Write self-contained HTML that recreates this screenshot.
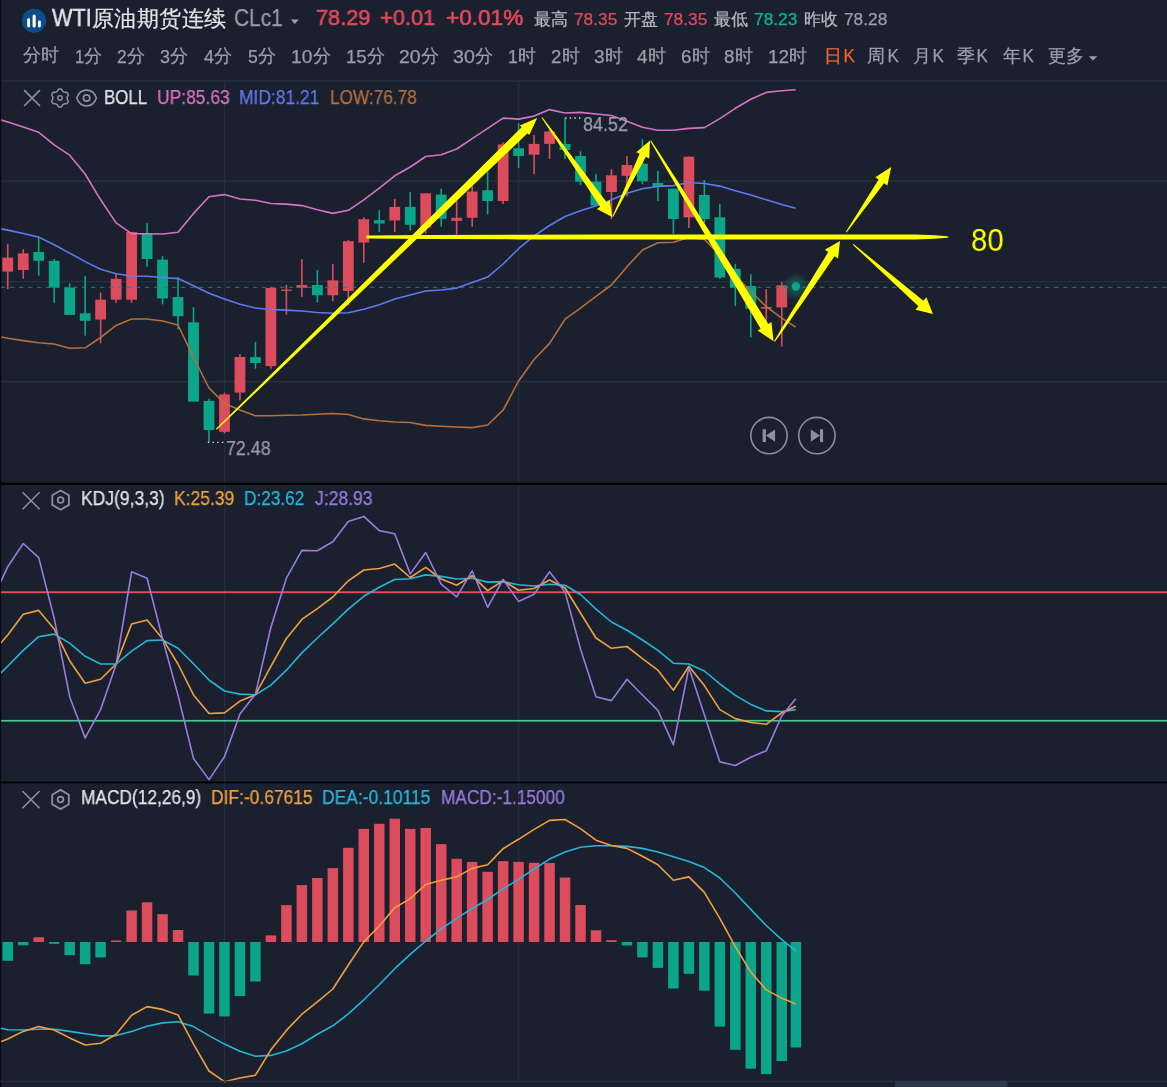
<!DOCTYPE html>
<html lang="zh"><head><meta charset="utf-8"><title>WTI原油期货连续 CLc1</title>
<style>
html,body{margin:0;padding:0;background:#1a202e;}
body{width:1167px;height:1087px;overflow:hidden;position:relative;font-family:"Liberation Sans",sans-serif;}
svg{position:absolute;left:0;top:0;}
.t{position:absolute;white-space:nowrap;line-height:1;transform-origin:0 50%;display:block;will-change:transform;}
.t{-webkit-text-stroke:0.25px currentColor;}
.s{-webkit-text-stroke:0.45px currentColor;}
.m{-webkit-text-stroke:0.65px currentColor !important;}
.tf b{font-weight:400;display:inline-block;transform-origin:0 50%;}
.tf i{font-style:normal;position:absolute;right:0;top:0.03em;font-size:17.6px;}
</style></head><body>
<svg width="1167" height="1087" viewBox="0 0 1167 1087">
<rect x="0" y="80.2" width="1167" height="1.8" fill="#242d3c"/>
<rect x="0" y="180.5" width="1167" height="1.4" fill="#27313f"/>
<rect x="0" y="280.95" width="1167" height="1.4" fill="#27313f"/>
<rect x="0" y="381.0" width="1167" height="1.4" fill="#27313f"/>
<rect x="223.9" y="82" width="1.3" height="999" fill="#252e3f"/>
<rect x="517.9" y="82" width="1.3" height="999" fill="#252e3f"/>
<rect x="6.95" y="244" width="1.6" height="45" fill="#dc4c5c"/>
<rect x="2.35" y="257.7" width="10.8" height="13.9" fill="#dc4c5c"/>
<rect x="22.43" y="249.2" width="1.6" height="29.6" fill="#dc4c5c"/>
<rect x="17.83" y="253.3" width="10.8" height="16.7" fill="#dc4c5c"/>
<rect x="37.91" y="237.9" width="1.6" height="37.8" fill="#0ba68a"/>
<rect x="33.31" y="252" width="10.8" height="8.8" fill="#0ba68a"/>
<rect x="53.39" y="259" width="1.6" height="43.8" fill="#0ba68a"/>
<rect x="48.79" y="260.8" width="10.8" height="26.8" fill="#0ba68a"/>
<rect x="68.87" y="283.4" width="1.6" height="31.5" fill="#0ba68a"/>
<rect x="64.27" y="287.6" width="10.8" height="27.3" fill="#0ba68a"/>
<rect x="84.35" y="276.2" width="1.6" height="59.5" fill="#0ba68a"/>
<rect x="79.75" y="313.3" width="10.8" height="7.5" fill="#0ba68a"/>
<rect x="99.83" y="292.5" width="1.6" height="50.7" fill="#dc4c5c"/>
<rect x="95.23" y="299.7" width="10.8" height="19.8" fill="#dc4c5c"/>
<rect x="115.31" y="273" width="1.6" height="29.8" fill="#dc4c5c"/>
<rect x="110.71" y="278.8" width="10.8" height="20.9" fill="#dc4c5c"/>
<rect x="130.79" y="232" width="1.6" height="70.8" fill="#dc4c5c"/>
<rect x="126.19" y="232" width="10.8" height="67.7" fill="#dc4c5c"/>
<rect x="146.27" y="223.2" width="1.6" height="43.5" fill="#0ba68a"/>
<rect x="141.67" y="233.5" width="10.8" height="25.5" fill="#0ba68a"/>
<rect x="161.75" y="256.2" width="1.6" height="48.2" fill="#0ba68a"/>
<rect x="157.15" y="259.6" width="10.8" height="38.8" fill="#0ba68a"/>
<rect x="177.23" y="277.3" width="1.6" height="52" fill="#0ba68a"/>
<rect x="172.63" y="297.1" width="10.8" height="19.1" fill="#0ba68a"/>
<rect x="192.71" y="307.3" width="1.6" height="94.3" fill="#0ba68a"/>
<rect x="188.11" y="322.3" width="10.8" height="79.3" fill="#0ba68a"/>
<rect x="208.19" y="398.8" width="1.6" height="43.2" fill="#0ba68a"/>
<rect x="203.59" y="400.9" width="10.8" height="29.1" fill="#0ba68a"/>
<rect x="223.67" y="392.6" width="1.6" height="40.7" fill="#dc4c5c"/>
<rect x="219.07" y="394.4" width="10.8" height="37.4" fill="#dc4c5c"/>
<rect x="239.15" y="354" width="1.6" height="46.4" fill="#dc4c5c"/>
<rect x="234.55" y="357" width="10.8" height="35.6" fill="#dc4c5c"/>
<rect x="254.63" y="341.9" width="1.6" height="26.8" fill="#0ba68a"/>
<rect x="250.03" y="357.1" width="10.8" height="5.9" fill="#0ba68a"/>
<rect x="270.11" y="286.8" width="1.6" height="81.9" fill="#dc4c5c"/>
<rect x="265.51" y="288" width="10.8" height="78.1" fill="#dc4c5c"/>
<rect x="285.59" y="285" width="1.6" height="29.6" fill="#dc4c5c"/>
<rect x="280.99" y="289.6" width="10.8" height="1.3" fill="#dc4c5c"/>
<rect x="301.07" y="259.2" width="1.6" height="37.6" fill="#dc4c5c"/>
<rect x="296.47" y="285" width="10.8" height="2.8" fill="#dc4c5c"/>
<rect x="316.55" y="270" width="1.6" height="32.5" fill="#0ba68a"/>
<rect x="311.95" y="285" width="10.8" height="10.3" fill="#0ba68a"/>
<rect x="332.03" y="263.9" width="1.6" height="37.3" fill="#dc4c5c"/>
<rect x="327.43" y="280.3" width="10.8" height="15" fill="#dc4c5c"/>
<rect x="347.51" y="239.9" width="1.6" height="65.7" fill="#dc4c5c"/>
<rect x="342.91" y="241.2" width="10.8" height="49.7" fill="#dc4c5c"/>
<rect x="362.99" y="217.2" width="1.6" height="45.5" fill="#dc4c5c"/>
<rect x="358.39" y="219.2" width="10.8" height="23.4" fill="#dc4c5c"/>
<rect x="378.47" y="210.2" width="1.6" height="21.9" fill="#0ba68a"/>
<rect x="373.87" y="220.2" width="10.8" height="3.3" fill="#0ba68a"/>
<rect x="393.95" y="199" width="1.6" height="33.1" fill="#dc4c5c"/>
<rect x="389.35" y="206.9" width="10.8" height="13.6" fill="#dc4c5c"/>
<rect x="409.43" y="192" width="1.6" height="38.8" fill="#0ba68a"/>
<rect x="404.83" y="206.9" width="10.8" height="17.9" fill="#0ba68a"/>
<rect x="424.91" y="193.3" width="1.6" height="40.2" fill="#dc4c5c"/>
<rect x="420.31" y="193.3" width="10.8" height="34.2" fill="#dc4c5c"/>
<rect x="440.39" y="188.7" width="1.6" height="37.8" fill="#0ba68a"/>
<rect x="435.79" y="194.6" width="10.8" height="24.2" fill="#0ba68a"/>
<rect x="455.87" y="201" width="1.6" height="33.5" fill="#dc4c5c"/>
<rect x="451.27" y="217.8" width="10.8" height="3.1" fill="#dc4c5c"/>
<rect x="471.35" y="185.6" width="1.6" height="41.2" fill="#dc4c5c"/>
<rect x="466.75" y="191.5" width="10.8" height="26.3" fill="#dc4c5c"/>
<rect x="486.83" y="171.4" width="1.6" height="43" fill="#0ba68a"/>
<rect x="482.23" y="190.2" width="10.8" height="10.8" fill="#0ba68a"/>
<rect x="502.31" y="142.3" width="1.6" height="61.8" fill="#dc4c5c"/>
<rect x="497.71" y="144.4" width="10.8" height="56.6" fill="#dc4c5c"/>
<rect x="517.79" y="123.3" width="1.6" height="44.7" fill="#0ba68a"/>
<rect x="513.19" y="148.2" width="10.8" height="7.8" fill="#0ba68a"/>
<rect x="533.27" y="134.9" width="1.6" height="39.1" fill="#dc4c5c"/>
<rect x="528.67" y="143.9" width="10.8" height="10.8" fill="#dc4c5c"/>
<rect x="548.75" y="130.2" width="1.6" height="28.8" fill="#dc4c5c"/>
<rect x="544.15" y="131.5" width="10.8" height="12.4" fill="#dc4c5c"/>
<rect x="564.23" y="118.1" width="1.6" height="40.9" fill="#0ba68a"/>
<rect x="559.63" y="143.9" width="10.8" height="6.1" fill="#0ba68a"/>
<rect x="579.71" y="151.3" width="1.6" height="33.5" fill="#0ba68a"/>
<rect x="575.11" y="156" width="10.8" height="25.7" fill="#0ba68a"/>
<rect x="595.19" y="174" width="1.6" height="32" fill="#0ba68a"/>
<rect x="590.59" y="181.7" width="10.8" height="23.7" fill="#0ba68a"/>
<rect x="610.67" y="169.2" width="1.6" height="49.8" fill="#dc4c5c"/>
<rect x="606.07" y="175.3" width="10.8" height="16.7" fill="#dc4c5c"/>
<rect x="626.15" y="156" width="1.6" height="40.4" fill="#dc4c5c"/>
<rect x="621.55" y="165" width="10.8" height="10.8" fill="#dc4c5c"/>
<rect x="641.63" y="139.2" width="1.6" height="45.1" fill="#0ba68a"/>
<rect x="637.03" y="163.7" width="10.8" height="17.5" fill="#0ba68a"/>
<rect x="657.11" y="170.9" width="1.6" height="30.1" fill="#0ba68a"/>
<rect x="652.51" y="183" width="10.8" height="3.4" fill="#0ba68a"/>
<rect x="672.59" y="188.7" width="1.6" height="45" fill="#0ba68a"/>
<rect x="667.99" y="188.7" width="10.8" height="30.3" fill="#0ba68a"/>
<rect x="688.07" y="156.7" width="1.6" height="71.3" fill="#dc4c5c"/>
<rect x="683.47" y="156.7" width="10.8" height="60.6" fill="#dc4c5c"/>
<rect x="703.55" y="180" width="1.6" height="43" fill="#0ba68a"/>
<rect x="698.95" y="195" width="10.8" height="24" fill="#0ba68a"/>
<rect x="719.03" y="204" width="1.6" height="74.8" fill="#0ba68a"/>
<rect x="714.43" y="217.3" width="10.8" height="60.2" fill="#0ba68a"/>
<rect x="734.51" y="264" width="1.6" height="42.1" fill="#0ba68a"/>
<rect x="729.91" y="268.8" width="10.8" height="19" fill="#0ba68a"/>
<rect x="749.99" y="274.4" width="1.6" height="63.1" fill="#0ba68a"/>
<rect x="745.39" y="286" width="10.8" height="22.7" fill="#0ba68a"/>
<rect x="765.47" y="289" width="1.6" height="33" fill="#dc4c5c"/>
<rect x="760.87" y="307" width="10.8" height="1.7" fill="#dc4c5c"/>
<rect x="780.95" y="282.2" width="1.6" height="64.3" fill="#dc4c5c"/>
<rect x="776.35" y="285.3" width="10.8" height="22.1" fill="#dc4c5c"/>
<line x1="1.1" y1="287.25" x2="1167" y2="287.25" stroke="#1c8876" stroke-width="1.1" stroke-dasharray="4.3 4.7"/>
<polyline fill="none" stroke="#d673c4" stroke-width="1.6" stroke-linejoin="round" points="1.3,119.9 7.75,122 23.23,126.9 38.71,132.3 54.19,144.9 69.67,155.2 85.15,174 100.63,199.8 116.11,222.9 131.59,233.7 147.07,233.7 162.55,234 178.03,232.3 193.51,213.4 208.99,196.7 224.47,194.6 239.95,199 255.43,200.3 270.91,203.5 286.39,204.1 301.87,205.6 317.35,209.8 332.83,213.4 348.31,210.3 363.79,199.9 379.27,188.2 394.75,175.8 410.23,167 425.71,156.5 441.19,154.7 456.67,149 472.15,138.7 487.63,128.4 503.11,118.1 518.59,119.1 534.07,116.1 549.55,109.6 565.03,113 580.51,112.4 595.99,114 611.47,115.5 626.95,121.2 642.43,127.2 657.91,130.2 673.39,130.2 688.87,128.4 704.35,127.6 719.83,118.6 735.31,108.3 750.79,99.3 766.27,92.4 781.75,90.8 795.7,89.8"/>
<polyline fill="none" stroke="#5f7aee" stroke-width="1.6" stroke-linejoin="round" points="1.3,228.9 7.75,230.1 23.23,233.5 38.71,237.1 54.19,244.8 69.67,253.1 85.15,261.6 100.63,269.3 116.11,273.7 131.59,276 147.07,276.2 162.55,277.5 178.03,278.6 193.51,285.8 208.99,293.2 224.47,299 239.95,304.2 255.43,308 270.91,309.5 286.39,310.1 301.87,311 317.35,312.5 332.83,313.3 348.31,312.8 363.79,309.3 379.27,304.8 394.75,299 410.23,295 425.71,291 441.19,290 456.67,288.1 472.15,282.5 487.63,277.1 503.11,264 518.59,248.7 534.07,235.8 549.55,225.5 565.03,216.5 580.51,210.8 595.99,205.7 611.47,199.8 626.95,193.3 642.43,188.7 657.91,186.4 673.39,185.6 688.87,182.5 704.35,183.5 719.83,186.1 735.31,190.7 750.79,195.1 766.27,199.8 781.75,204.4 795.7,208.3"/>
<polyline fill="none" stroke="#b56f3d" stroke-width="1.6" stroke-linejoin="round" points="1.3,337 7.75,338.3 23.23,340.6 38.71,342.7 54.19,344 69.67,348.3 85.15,347.8 100.63,337.5 116.11,325.4 131.59,319 147.07,319 162.55,321 178.03,325 193.51,357.5 208.99,388 224.47,403.4 239.95,409.9 255.43,415.8 270.91,415.8 286.39,415.3 301.87,415 317.35,414.3 332.83,413.5 348.31,414.5 363.79,418.9 379.27,420.7 394.75,422 410.23,422.5 425.71,425.4 441.19,426.2 456.67,427 472.15,427.6 487.63,425 503.11,410.2 518.59,381 534.07,359.5 549.55,343.4 565.03,319.2 580.51,308.2 595.99,296.4 611.47,285 626.95,266.7 642.43,250 657.91,242.8 673.39,242.2 688.87,237.6 704.35,239.2 719.83,255.1 735.31,275 750.79,291.7 766.27,306.6 781.75,318.2 795.7,327.2"/>
<defs><radialGradient id="glow"><stop offset="0" stop-color="#0ba68a" stop-opacity="0.42"/><stop offset="0.55" stop-color="#0ba68a" stop-opacity="0.24"/><stop offset="1" stop-color="#0ba68a" stop-opacity="0"/></radialGradient></defs>
<circle cx="795.9" cy="286.5" r="14.5" fill="url(#glow)"/>
<circle cx="795.9" cy="286.5" r="4.2" fill="#0ba68a"/>
<line x1="207.8" y1="442.4" x2="224" y2="442.4" stroke="#d8dbe2" stroke-width="1.3" stroke-dasharray="1.4 3.3"/>
<line x1="565.2" y1="118" x2="581" y2="118" stroke="#d8dbe2" stroke-width="1.3" stroke-dasharray="1.4 3.2"/>
<polygon fill="#ffff00" points="366.3,235.7 367.5,235.5 430,235.1 520,234.7 600,234.4 915,234.4 935,235.2 947,236.2 949.4,237 947,237.8 935,238.8 915,239.6 600,239.5 520,239.4 430,239 367.5,238.4 366.3,238.2"/>
<polygon fill="#ffff00" points="216.82,429.63 527.53,133.31 529.27,135.1 537.2,118 519.87,125.41 521.61,127.2 215.98,428.77"/>
<polygon fill="#ffff00" points="541.59,117.79 600.11,206.8 596.92,209.05 612.2,217 609.83,199.94 606.65,202.19 542.41,117.21"/>
<polygon fill="#ffff00" points="613.25,216.82 645.9,156.86 649.22,158.49 650,140.5 636.29,152.16 639.61,153.79 612.35,216.38"/>
<polygon fill="#ffff00" points="650.27,140.96 657.99,154.47 665.81,167.91 673.66,181.34 681.52,194.75 689.4,208.16 697.29,221.56 705.19,234.95 713.1,248.34 721.01,261.73 728.92,275.12 736.84,288.5 744.76,301.88 752.69,315.26 760.62,328.63 757.55,330.51 773.6,341.2 771.36,322.05 768.29,323.93 759.97,310.79 751.64,297.66 743.32,284.53 734.98,271.4 726.65,258.27 718.31,245.15 709.96,232.03 701.61,218.91 693.25,205.8 684.88,192.69 676.5,179.6 668.1,166.51 659.66,153.44 651.13,140.44"/>
<polygon fill="#ffff00" points="774.92,341.77 779.32,335.75 783.63,329.67 787.92,323.58 792.2,317.48 796.46,311.37 800.72,305.25 804.97,299.13 809.22,293.01 813.46,286.89 817.69,280.76 821.93,274.63 826.16,268.5 830.39,262.36 834.61,256.23 838.09,258.49 840,241 824.77,249.81 828.24,252.08 824.34,258.42 820.43,264.77 816.53,271.11 812.63,277.46 808.74,283.81 804.84,290.16 800.96,296.52 797.07,302.88 793.2,309.24 789.33,315.61 785.47,321.98 781.63,328.37 777.81,334.77 774.08,341.23"/>
<polygon fill="#ffff00" points="846.61,232.58 884.04,183.2 887.38,185.5 891.2,167 875.27,177.16 878.61,179.45 845.79,232.02"/>
<polygon fill="#ffff00" points="852.77,244.78 918.45,306.29 915.46,309.72 932.9,313.9 926.36,297.2 923.37,300.63 853.43,244.02"/>
<circle cx="769" cy="435.6" r="18.2" fill="none" stroke="#8b90a0" stroke-width="1.6"/>
<circle cx="816.9" cy="435.6" r="18.2" fill="none" stroke="#8b90a0" stroke-width="1.6"/>
<path fill="#8b90a0" d="M762.6,429.2h3.3v12.9h-3.3z M765.9,435.6 L775.1,429.5 V441.8z"/>
<path fill="#8b90a0" d="M820,429.2h3.1v12.9h-3.1z M820,435.6 L810.8,429.5 V441.8z"/>
<rect x="0" y="591.3" width="1167" height="1.9" fill="#e8495b"/>
<rect x="0" y="719.9" width="1167" height="1.7" fill="#48c68c"/>
<polyline fill="none" stroke="#25b7d9" stroke-width="1.6" stroke-linejoin="round" points="0,674 7.75,666.3 23.23,650.4 38.71,636.7 54.19,634.1 69.67,643.1 85.15,656.3 100.63,664 116.11,664 131.59,651.1 147.07,640.6 162.55,640 178.03,648.3 193.51,663.7 208.99,680 224.47,691 239.95,694.1 255.43,694.7 270.91,685.1 286.39,670.2 301.87,652.9 317.35,638 332.83,623.8 348.31,609.1 363.79,596.3 379.27,587.3 394.75,579.5 410.23,578.8 425.71,574.9 441.19,576.4 456.67,579 472.15,578.2 487.63,582.1 503.11,581.6 518.59,584.7 534.07,586 549.55,584.2 565.03,585.2 580.51,594.5 595.99,609.1 611.47,622 626.95,630.3 642.43,640 657.91,650.4 673.39,663.2 688.87,664 704.35,671 719.83,683.8 735.31,695.4 750.79,704.4 766.27,710.9 781.75,711.6 795.7,709.6"/>
<polyline fill="none" stroke="#f2a03d" stroke-width="1.6" stroke-linejoin="round" points="0,643.9 7.75,634.9 23.23,614.3 38.71,610.4 54.19,629 69.67,660.7 85.15,683.3 100.63,679.2 116.11,664 131.59,624.1 147.07,620 162.55,638.8 178.03,664 193.51,694.9 208.99,713.5 224.47,712.9 239.95,701.1 255.43,694.7 270.91,666.3 286.39,638.5 301.87,619.4 317.35,608.6 332.83,597 348.31,580.8 363.79,570 379.27,568.5 394.75,564.1 410.23,577.5 425.71,567.4 441.19,579 456.67,585.2 472.15,575.7 487.63,590.6 503.11,580.8 518.59,590.3 534.07,588.5 549.55,580 565.03,588 580.51,613 595.99,638 611.47,648.3 626.95,646.5 642.43,658.6 657.91,670.2 673.39,690.3 688.87,666.3 704.35,685.6 719.83,709.6 735.31,718.6 750.79,722.5 766.27,724.3 781.75,712.9 795.7,706.2"/>
<polyline fill="none" stroke="#9a7be0" stroke-width="1.6" stroke-linejoin="round" points="0,583.4 7.75,566.7 23.23,543.5 38.71,557.6 54.19,618.2 69.67,696.7 85.15,737.9 100.63,709.6 116.11,664.5 131.59,571.8 147.07,578.2 162.55,638.8 178.03,695.4 193.51,758.5 208.99,779.6 224.47,756.7 239.95,714 255.43,694.1 270.91,627.2 286.39,578.2 301.87,550.4 317.35,550.7 332.83,541.7 348.31,521.6 363.79,516.4 379.27,530.6 394.75,533.7 410.23,573.9 425.71,552.5 441.19,584.2 456.67,596.8 472.15,571 487.63,607.3 503.11,579.5 518.59,601.4 534.07,594.2 549.55,571.8 565.03,591.9 580.51,649 595.99,696.7 611.47,700.6 626.95,679.2 642.43,695 657.91,710.4 673.39,744.9 688.87,667.6 704.35,714.7 719.83,761.9 735.31,765.5 750.79,757.2 766.27,750.8 781.75,716 795.7,698.8"/>
<rect x="2.5" y="942" width="10.5" height="18.8" fill="#0ba68a"/>
<rect x="17.98" y="942" width="10.5" height="3.3" fill="#0ba68a"/>
<rect x="33.46" y="937.3" width="10.5" height="4.7" fill="#dc4c5c"/>
<rect x="48.94" y="942" width="10.5" height="1.8" fill="#0ba68a"/>
<rect x="64.42" y="942" width="10.5" height="13.1" fill="#0ba68a"/>
<rect x="79.9" y="942" width="10.5" height="22.2" fill="#0ba68a"/>
<rect x="95.38" y="942" width="10.5" height="15.4" fill="#0ba68a"/>
<rect x="110.86" y="940.5" width="10.5" height="1.5" fill="#dc4c5c"/>
<rect x="126.34" y="910.5" width="10.5" height="31.5" fill="#dc4c5c"/>
<rect x="141.82" y="902.3" width="10.5" height="39.7" fill="#dc4c5c"/>
<rect x="157.3" y="914.2" width="10.5" height="27.8" fill="#dc4c5c"/>
<rect x="172.78" y="930" width="10.5" height="12" fill="#dc4c5c"/>
<rect x="188.26" y="942" width="10.5" height="33.5" fill="#0ba68a"/>
<rect x="203.74" y="942" width="10.5" height="71.6" fill="#0ba68a"/>
<rect x="219.22" y="942" width="10.5" height="74.4" fill="#0ba68a"/>
<rect x="234.7" y="942" width="10.5" height="54.1" fill="#0ba68a"/>
<rect x="250.18" y="942" width="10.5" height="39.5" fill="#0ba68a"/>
<rect x="265.66" y="935.4" width="10.5" height="6.6" fill="#dc4c5c"/>
<rect x="281.14" y="905.1" width="10.5" height="36.9" fill="#dc4c5c"/>
<rect x="296.62" y="885.1" width="10.5" height="56.9" fill="#dc4c5c"/>
<rect x="312.1" y="878" width="10.5" height="64" fill="#dc4c5c"/>
<rect x="327.58" y="868.1" width="10.5" height="73.9" fill="#dc4c5c"/>
<rect x="343.06" y="847.8" width="10.5" height="94.2" fill="#dc4c5c"/>
<rect x="358.54" y="828.9" width="10.5" height="113.1" fill="#dc4c5c"/>
<rect x="374.02" y="823.8" width="10.5" height="118.2" fill="#dc4c5c"/>
<rect x="389.5" y="818.7" width="10.5" height="123.3" fill="#dc4c5c"/>
<rect x="404.98" y="828.9" width="10.5" height="113.1" fill="#dc4c5c"/>
<rect x="420.46" y="828" width="10.5" height="114" fill="#dc4c5c"/>
<rect x="435.94" y="844.1" width="10.5" height="97.9" fill="#dc4c5c"/>
<rect x="451.42" y="858.8" width="10.5" height="83.2" fill="#dc4c5c"/>
<rect x="466.9" y="861.9" width="10.5" height="80.1" fill="#dc4c5c"/>
<rect x="482.38" y="871.8" width="10.5" height="70.2" fill="#dc4c5c"/>
<rect x="497.86" y="861.1" width="10.5" height="80.9" fill="#dc4c5c"/>
<rect x="513.34" y="861.9" width="10.5" height="80.1" fill="#dc4c5c"/>
<rect x="528.82" y="862.8" width="10.5" height="79.2" fill="#dc4c5c"/>
<rect x="544.3" y="863" width="10.5" height="79" fill="#dc4c5c"/>
<rect x="559.78" y="877.5" width="10.5" height="64.5" fill="#dc4c5c"/>
<rect x="575.26" y="905" width="10.5" height="37" fill="#dc4c5c"/>
<rect x="590.74" y="930.3" width="10.5" height="11.7" fill="#dc4c5c"/>
<rect x="606.22" y="940.2" width="10.5" height="1.8" fill="#dc4c5c"/>
<rect x="621.7" y="942" width="10.5" height="3.5" fill="#0ba68a"/>
<rect x="637.18" y="942" width="10.5" height="15.4" fill="#0ba68a"/>
<rect x="652.66" y="942" width="10.5" height="25.9" fill="#0ba68a"/>
<rect x="668.14" y="942" width="10.5" height="46.5" fill="#0ba68a"/>
<rect x="683.62" y="942" width="10.5" height="31.8" fill="#0ba68a"/>
<rect x="699.1" y="942" width="10.5" height="48.7" fill="#0ba68a"/>
<rect x="714.58" y="942" width="10.5" height="84.6" fill="#0ba68a"/>
<rect x="730.06" y="942" width="10.5" height="107.8" fill="#0ba68a"/>
<rect x="745.54" y="942" width="10.5" height="126.7" fill="#0ba68a"/>
<rect x="761.02" y="942" width="10.5" height="132.1" fill="#0ba68a"/>
<rect x="776.5" y="942" width="10.5" height="119.1" fill="#0ba68a"/>
<rect x="790.65" y="942" width="10.5" height="105.5" fill="#0ba68a"/>
<polyline fill="none" stroke="#25b7d9" stroke-width="1.6" stroke-linejoin="round" points="0,1028 7.75,1029.7 23.23,1030 38.71,1029.2 54.19,1029.2 69.67,1031.4 85.15,1033.7 100.63,1035.9 116.11,1035.6 131.59,1031.4 147.07,1026.3 162.55,1022.9 178.03,1021.8 193.51,1026.6 208.99,1035.6 224.47,1044.1 239.95,1051.2 255.43,1056.3 270.91,1055.4 286.39,1051 301.87,1043.7 317.35,1034.2 332.83,1025.8 348.31,1013.9 363.79,999.8 379.27,984.8 394.75,968.7 410.23,954.3 425.71,941 441.19,928.9 456.67,918.4 472.15,908.5 487.63,899.5 503.11,888.8 518.59,879.4 534.07,869 549.55,859.1 565.03,852 580.51,847.2 595.99,845.8 611.47,845.8 626.95,846.4 642.43,848.4 657.91,852 673.39,856.8 688.87,861.4 704.35,867.6 719.83,878 735.31,893 750.79,909.4 766.27,925.5 781.75,939.6 795.7,950.9"/>
<polyline fill="none" stroke="#f2a03d" stroke-width="1.6" stroke-linejoin="round" points="0,1042.1 7.75,1039 23.23,1031.4 38.71,1026.6 54.19,1030 69.67,1037.9 85.15,1045 100.63,1043.3 116.11,1034.2 131.59,1015.3 147.07,1006.6 162.55,1009.4 178.03,1015 193.51,1044.1 208.99,1071 224.47,1081.7 239.95,1078 255.43,1075.2 270.91,1049.8 286.39,1030.4 301.87,1014.2 317.35,1001.8 332.83,989 348.31,965 363.79,941.9 379.27,926 394.75,907.7 410.23,898.6 425.71,884.5 441.19,880.3 456.67,876.9 472.15,868.4 487.63,864.7 503.11,848.6 518.59,839.3 534.07,829.4 549.55,820.4 565.03,819.5 580.51,828.6 595.99,840.2 611.47,845.5 626.95,848.4 642.43,856.3 657.91,864.7 673.39,880.3 688.87,876.9 704.35,892.4 719.83,918.4 735.31,946.7 750.79,972.1 766.27,989.9 781.75,998.1 795.7,1004"/>
<rect x="0" y="482.75" width="1167" height="2.25" fill="#000"/>
<rect x="0" y="781.6" width="1167" height="1.7" fill="#000"/>
<rect x="0" y="0" width="1.1" height="1087" fill="#05070a"/>
<rect x="0" y="1080.7" width="1167" height="1.2" fill="#263043"/>
<rect x="895" y="1080.9" width="112.5" height="6.2" fill="#2e384b"/>
<path d="M24.1,90.1L40,106M40,90.1L24.1,106" stroke="#8b90a0" stroke-width="1.6" fill="none"/>
<path d="M22.6,492.2L39.6,509.2M39.6,492.2L22.6,509.2" stroke="#8b90a0" stroke-width="1.6" fill="none"/>
<path d="M22.4,791.0L39.6,808.2M39.6,791.0L22.4,808.2" stroke="#8b90a0" stroke-width="1.6" fill="none"/>
<polygon fill="none" stroke="#8b90a0" stroke-width="1.8" stroke-linejoin="round" points="60.6,490.5 68.91,495.3 68.91,504.9 60.6,509.7 52.29,504.9 52.29,495.3"/>
<circle cx="60.6" cy="500.1" r="2.9" fill="none" stroke="#8b90a0" stroke-width="1.7"/>
<polygon fill="none" stroke="#8b90a0" stroke-width="1.8" stroke-linejoin="round" points="60.5,789.9 68.81,794.7 68.81,804.3 60.5,809.1 52.19,804.3 52.19,794.7"/>
<circle cx="60.5" cy="799.5" r="2.9" fill="none" stroke="#8b90a0" stroke-width="1.7"/>
<polygon fill="none" stroke="#8b90a0" stroke-width="1.5" stroke-linejoin="round" points="60,89 60.78,89.05 61.53,89.3 62.1,90.18 62.52,91.08 63.05,91.46 63.6,91.76 64.14,92.09 64.73,92.36 65.73,92.27 66.77,92.32 67.36,92.85 67.79,93.5 68.14,94.2 68.31,94.98 67.82,95.9 67.25,96.72 67.19,97.37 67.2,98 67.19,98.63 67.25,99.28 67.82,100.1 68.31,101.02 68.14,101.8 67.79,102.5 67.36,103.15 66.77,103.68 65.73,103.73 64.73,103.64 64.14,103.91 63.6,104.24 63.05,104.54 62.52,104.92 62.1,105.82 61.53,106.7 60.78,106.95 60,107 59.22,106.95 58.47,106.7 57.9,105.82 57.48,104.92 56.95,104.54 56.4,104.24 55.86,103.91 55.27,103.64 54.27,103.73 53.23,103.68 52.64,103.15 52.21,102.5 51.86,101.8 51.69,101.02 52.18,100.1 52.75,99.28 52.81,98.63 52.8,98 52.81,97.37 52.75,96.72 52.18,95.9 51.69,94.98 51.86,94.2 52.21,93.5 52.64,92.85 53.23,92.32 54.27,92.27 55.27,92.36 55.86,92.09 56.4,91.76 56.95,91.46 57.48,91.08 57.9,90.18 58.47,89.3 59.22,89.05 60,89"/>
<circle cx="60" cy="98" r="2.2" fill="none" stroke="#8b90a0" stroke-width="1.5"/>
<path d="M76.8,98 C78.4,93.2 82.2,90.1 86.6,90.1 C91,90.1 94.8,93.2 96.4,98 C94.8,102.8 91,105.9 86.6,105.9 C82.2,105.9 78.4,102.8 76.8,98Z" fill="none" stroke="#8b90a0" stroke-width="1.7" stroke-linejoin="round"/>
<circle cx="86.6" cy="98" r="3.2" fill="none" stroke="#8b90a0" stroke-width="1.7"/>
<circle cx="34" cy="20.8" r="12.05" fill="#0c4e8d"/>
<rect x="27.2" y="18.2" width="2.85" height="9.3" rx="1.4" fill="#fff"/><rect x="32.6" y="14.4" width="3.1" height="13.1" rx="1.5" fill="#fff"/><rect x="38" y="20.4" width="2.85" height="7.1" rx="1.4" fill="#fff"/>
<path d="M290.8,19.4h8l-4,4.6z" fill="#9a9fac"/>
<path d="M1088.9,56.3h8.2l-4.1,4.4z" fill="#9a9fac"/>
</svg>
<span class="t s" style="left:52.2px;top:5.86px;font-size:24px;color:#e3e4e8;transform:scaleX(0.9049);">WTI</span>
<span class="t" style="left:91.9px;top:7.6px;font-size:22px;color:#e3e4e8;-webkit-text-stroke:0.2px currentColor;letter-spacing:0.45px;">原油期货连续</span>
<span class="t " style="left:234.2px;top:5.76px;font-size:24px;color:#9a9fac;transform:scaleX(0.8692);">CLc1</span>
<span class="t m" style="left:315.6px;top:6.85px;font-size:22.6px;color:#e2495b;transform:scaleX(0.9601);">78.29</span>
<span class="t m" style="left:380.3px;top:6.85px;font-size:22.6px;color:#e2495b;transform:scaleX(0.9688);">+0.01</span>
<span class="t m" style="left:446.4px;top:6.85px;font-size:22.6px;color:#e2495b;transform:scaleX(0.9977);">+0.01%</span>
<span class="t" style="left:534.4px;top:10.8px;font-size:17.2px;color:#b3b7c0;">最高</span>
<span class="t " style="left:573.5px;top:11.19px;font-size:17px;color:#e2495b;transform:scaleX(1.0178);">78.35</span>
<span class="t" style="left:624.2px;top:10.8px;font-size:17.2px;color:#b3b7c0;">开盘</span>
<span class="t " style="left:664px;top:11.19px;font-size:17px;color:#e2495b;transform:scaleX(1.0178);">78.35</span>
<span class="t" style="left:714.1px;top:10.8px;font-size:17.2px;color:#b3b7c0;">最低</span>
<span class="t " style="left:753.6px;top:11.19px;font-size:17px;color:#10b391;transform:scaleX(1.0202);">78.23</span>
<span class="t" style="left:804.3px;top:10.8px;font-size:17.2px;color:#b3b7c0;">昨收</span>
<span class="t " style="left:844px;top:11.19px;font-size:17px;color:#9a9fac;transform:scaleX(1.0178);">78.28</span>
<span class="t" style="left:23.3px;top:46.65px;font-size:17.9px;color:#9a9fac;">分时</span>
<span class="t tf" style="left:74.6px;top:46.81px;width:27.4px;font-size:19.2px;color:#9a9fac"><b style="transform:scaleX(0.8616)">1</b><i>分</i></span>
<span class="t tf" style="left:117.4px;top:46.81px;width:27.9px;font-size:19.2px;color:#9a9fac"><b style="transform:scaleX(0.9084)">2</b><i>分</i></span>
<span class="t tf" style="left:160.4px;top:46.81px;width:28.2px;font-size:19.2px;color:#9a9fac"><b style="transform:scaleX(0.9365)">3</b><i>分</i></span>
<span class="t tf" style="left:204.3px;top:46.81px;width:28.2px;font-size:19.2px;color:#9a9fac"><b style="transform:scaleX(0.9365)">4</b><i>分</i></span>
<span class="t tf" style="left:247.6px;top:46.81px;width:28px;font-size:19.2px;color:#9a9fac"><b style="transform:scaleX(0.9178)">5</b><i>分</i></span>
<span class="t tf" style="left:291.2px;top:46.81px;width:39.5px;font-size:19.2px;color:#9a9fac"><b style="transform:scaleX(0.9974)">10</b><i>分</i></span>
<span class="t tf" style="left:345.8px;top:46.81px;width:38.9px;font-size:19.2px;color:#9a9fac"><b style="transform:scaleX(0.9693)">15</b><i>分</i></span>
<span class="t tf" style="left:399.3px;top:46.81px;width:39.7px;font-size:19.2px;color:#9a9fac"><b style="transform:scaleX(1.0067)">20</b><i>分</i></span>
<span class="t tf" style="left:453.3px;top:46.81px;width:40px;font-size:19.2px;color:#9a9fac"><b style="transform:scaleX(1.0208)">30</b><i>分</i></span>
<span class="t tf" style="left:507.6px;top:46.81px;width:28px;font-size:19.2px;color:#9a9fac"><b style="transform:scaleX(0.9178)">1</b><i>时</i></span>
<span class="t tf" style="left:550.5px;top:46.81px;width:28.5px;font-size:19.2px;color:#9a9fac"><b style="transform:scaleX(0.9646)">2</b><i>时</i></span>
<span class="t tf" style="left:594px;top:46.81px;width:28.8px;font-size:19.2px;color:#9a9fac"><b style="transform:scaleX(0.9927)">3</b><i>时</i></span>
<span class="t tf" style="left:637.4px;top:46.81px;width:28.7px;font-size:19.2px;color:#9a9fac"><b style="transform:scaleX(0.9833)">4</b><i>时</i></span>
<span class="t tf" style="left:681px;top:46.81px;width:28.7px;font-size:19.2px;color:#9a9fac"><b style="transform:scaleX(0.9833)">6</b><i>时</i></span>
<span class="t tf" style="left:724.3px;top:46.81px;width:28.7px;font-size:19.2px;color:#9a9fac"><b style="transform:scaleX(0.9833)">8</b><i>时</i></span>
<span class="t tf" style="left:768.1px;top:46.81px;width:39.3px;font-size:19.2px;color:#9a9fac"><b style="transform:scaleX(0.9880)">12</b><i>时</i></span>
<span class="t tf" style="left:823.5px;top:47.4px;width:30.9px;font-size:18px;color:#f0652c"><i style="left:0;right:auto">日</i><b style="position:absolute;right:0;transform-origin:100% 50%;transform:scaleX(0.9495)">K</b></span>
<span class="t tf" style="left:867.3px;top:47.4px;width:31.6px;font-size:18px;color:#9a9fac"><i style="left:0;right:auto">周</i><b style="position:absolute;right:0;transform-origin:100% 50%;transform:scaleX(0.9495)">K</b></span>
<span class="t tf" style="left:912.6px;top:47.4px;width:30.9px;font-size:18px;color:#9a9fac"><i style="left:0;right:auto">月</i><b style="position:absolute;right:0;transform-origin:100% 50%;transform:scaleX(0.9495)">K</b></span>
<span class="t tf" style="left:957.3px;top:47.4px;width:30.9px;font-size:18px;color:#9a9fac"><i style="left:0;right:auto">季</i><b style="position:absolute;right:0;transform-origin:100% 50%;transform:scaleX(0.9495)">K</b></span>
<span class="t tf" style="left:1002.5px;top:47.4px;width:31px;font-size:18px;color:#9a9fac"><i style="left:0;right:auto">年</i><b style="position:absolute;right:0;transform-origin:100% 50%;transform:scaleX(0.9495)">K</b></span>
<span class="t" style="left:1047.7px;top:46.6px;font-size:18px;color:#9a9fac;">更多</span>
<span class="t " style="left:103.7px;top:87.86px;font-size:19.3px;color:#e3e4e8;transform:scaleX(0.8774);">BOLL</span>
<span class="t " style="left:156.5px;top:87.86px;font-size:19.3px;color:#d673c4;transform:scaleX(0.9047);">UP:85.63</span>
<span class="t " style="left:239.4px;top:87.86px;font-size:19.3px;color:#5f7aee;transform:scaleX(0.9030);">MID:81.21</span>
<span class="t " style="left:329.9px;top:87.86px;font-size:19.3px;color:#b56f3d;transform:scaleX(0.8923);">LOW:76.78</span>
<span class="t " style="left:81.1px;top:489.06px;font-size:19.3px;color:#e3e4e8;transform:scaleX(0.9074);">KDJ(9,3,3)</span>
<span class="t " style="left:174.2px;top:489.06px;font-size:19.3px;color:#f2a03d;transform:scaleX(0.9063);">K:25.39</span>
<span class="t " style="left:244.3px;top:489.06px;font-size:19.3px;color:#25b7d9;transform:scaleX(0.8935);">D:23.62</span>
<span class="t " style="left:314.9px;top:489.06px;font-size:19.3px;color:#9a7be0;transform:scaleX(0.9098);">J:28.93</span>
<span class="t " style="left:81.2px;top:788.46px;font-size:19.3px;color:#e3e4e8;transform:scaleX(0.8973);">MACD(12,26,9)</span>
<span class="t " style="left:210.8px;top:788.46px;font-size:19.3px;color:#f2a03d;transform:scaleX(0.9037);">DIF:-0.67615</span>
<span class="t " style="left:322.4px;top:788.46px;font-size:19.3px;color:#25b7d9;transform:scaleX(0.9048);">DEA:-0.10115</span>
<span class="t " style="left:440.6px;top:788.46px;font-size:19.3px;color:#9a7be0;transform:scaleX(0.8954);">MACD:-1.15000</span>
<span class="t " style="left:226.4px;top:438.42px;font-size:20px;color:#9a9fac;transform:scaleX(0.8911);">72.48</span>
<span class="t " style="left:582.6px;top:114.32px;font-size:20px;color:#9a9fac;transform:scaleX(0.8991);">84.52</span>
<span class="t " style="left:970.8px;top:225.25px;font-size:31.4px;color:#ffff00;transform:scaleX(0.9334);-webkit-text-stroke:0;">80</span>
</body></html>
